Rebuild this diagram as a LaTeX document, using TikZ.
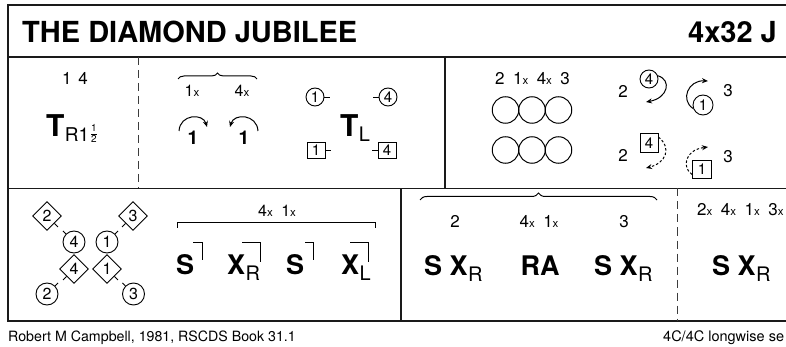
\documentclass[tikz,border=0pt]{standalone}
\usepackage{fontspec}
\setmainfont{TeX Gyre Heros}
\usetikzlibrary{shapes.geometric,arrows.meta,decorations.pathreplacing}
\definecolor{ink}{HTML}{1A1A1A}
\newcommand{\fs}[1]{\fontsize{#1}{#1}\selectfont}
\newcommand{\smx}{{\fs{11.5}x}}
\newcommand{\gap}{\hspace{8.5pt}}
\tikzset{
 frame/.style={line width=1.3pt, draw=ink},
 divdash/.style={line width=1pt, draw=ink!85, dash pattern=on 8pt off 5pt},
 txt/.style={inner sep=0pt, anchor=base, font=\fs{17}},
 lbl/.style={inner sep=0pt, anchor=base, font=\fs{16}},
 big/.style={inner sep=0pt, anchor=base, font=\fs{27}\bfseries},
 sub/.style={inner sep=0pt, anchor=base west, font=\fs{20}},
 dot/.style={circle, draw, line width=0.9pt, inner sep=0pt, minimum size=18pt, font=\fs{15}},
 sq/.style={rectangle, draw, line width=0.9pt, inner sep=0pt, minimum width=18pt, minimum height=16pt, font=\fs{15}},
 bigdot/.style={circle, draw, line width=0.9pt, inner sep=0pt, minimum size=22pt, font=\fs{16}},
 dia/.style={diamond, draw, line width=0.9pt, inner sep=0pt, minimum width=29pt, minimum height=29pt, font=\fs{16}},
 ring/.style={circle, draw, line width=1pt, inner sep=0pt, minimum size=26.5pt},
 tick/.style={line width=0.9pt},
 turn/.style={line width=1pt, -{Stealth[length=6pt,width=5pt]}},
 dturn/.style={turn, dash pattern=on 2.5pt off 2pt},
 bracketline/.style={line width=1pt},
 bracecurl/.style={line width=1pt, decorate, decoration={brace, amplitude=6pt}},
}
\begin{document}
\begin{tikzpicture}[x=1pt,y=-1pt]
\useasboundingbox (0,0) rectangle (786,347);
\clip (0,0) rectangle (786,347);

% frame
\draw[frame] (795,5) -- (8,5) -- (8,321) -- (795,321);
\draw[frame] (8,57) -- (795,57);
\draw[frame] (8,188.5) -- (795,188.5);
\draw[divdash] (138,57) -- (138,188.5);
\draw[frame, line width=1.1pt] (445,57) -- (445,188.5);
\draw[frame, line width=1.1pt] (401,188.5) -- (401,321);
\draw[divdash] (677,188.5) -- (677,321);

% title
\node[inner sep=0pt, anchor=base west, font=\fs{29}\bfseries] (title) at (22,43) {THE DIAMOND JUBILEE};
\node[inner sep=0pt, anchor=base east, font=\fs{29}\bfseries] (code) at (777,43) {4x32 J};

% ---- row 1, cell 1
\node[txt] (r1c1) at (75,85) {1\hspace{7pt}4};
\node[inner sep=0pt, anchor=base west, font=\fs{30}\bfseries] (T1) at (46,137) {T};
\node[sub, font=\fs{19}] (T1s) at (T1.base east) {\raisebox{-5pt}{R1}};
\node[inner sep=0pt, font=\fs{10}] (frac) at (94,134.5)
  {\renewcommand{\arraystretch}{0.7}\begin{tabular}{@{}c@{}}1\\\hline\noalign{\vskip1.3pt}2\end{tabular}};

% ---- row 1, cell 2
\draw[bracecurl] (178,79) -- (257,79);
\node[lbl] (c2a) at (192,97) {1\smx};
\node[lbl] (c2b) at (242,97) {4\smx};
\node[inner sep=0pt, anchor=base, font=\fs{19}\bfseries] (one1) at (193,145) {1};
\node[inner sep=0pt, anchor=base, font=\fs{19}\bfseries] (one2) at (244,145) {1};
\coordinate (a1s) at (179,131);
\coordinate (a1e) at (207,127);
\draw[turn] (a1s) .. controls (180,114) and (203,113) .. (a1e);
\coordinate (a2s) at (258,131);
\coordinate (a2e) at (230,127);
\draw[turn] (a2s) .. controls (257,114) and (234,113) .. (a2e);

\node[dot] (p1) at (315,97) {1};
\node[dot] (p4) at (388,97) {4};
\node[sq] (q1) at (316,150) {1};
\node[sq] (q4) at (387,150) {4};
\draw[tick] (p1.east) -- ++(6,0);
\draw[tick] (p4.west) -- ++(-6,0);
\draw[tick] (q1.east) -- ++(6,0);
\draw[tick] (q4.west) -- ++(-6,0);
\node[inner sep=0pt, anchor=base west, font=\fs{30}\bfseries] (T2) at (340,137) {T};
\node[sub] (T2s) at (T2.base east) {\raisebox{-5pt}{L}};

% ---- row 1, cell 3
\node[txt] (set) at (532.5,85) {2\gap1\smx\gap4\smx\gap3};
\node[ring] (ra1) at (505.5,110) {};
\node[ring] (ra2) at (532,110) {};
\node[ring] (ra3) at (558.5,110) {};
\node[ring] (rb1) at (505.5,150) {};
\node[ring] (rb2) at (532,150) {};
\node[ring] (rb3) at (558.5,150) {};

\node[txt] (n2a) at (623,98) {2};
\node[txt] (n3a) at (728,97) {3};
\node[dot, minimum size=18pt] (m4) at (649,79) {4};
\node[dot, minimum size=20pt] (m1) at (703,105) {1};
\coordinate (m4e) at (646,102);
\coordinate (m1e) at (708,81);
\draw[turn] (m4.20) .. controls (672,80) and (668,98) .. (m4e);
\draw[turn] (m1.200) .. controls (680,100) and (688,80) .. (m1e);

\node[txt] (n2b) at (623,162) {2};
\node[txt] (n3b) at (728,163) {3};
\node[sq, minimum width=18pt, minimum height=19pt] (s4) at (649,143) {4};
\node[sq, minimum width=19pt, minimum height=18pt] (s1) at (702,169) {1};
\coordinate (s4e) at (646,168);
\coordinate (s1e) at (708,147);
\draw[dturn] (s4.north east) ++(0,4) .. controls (672,148) and (666,163) .. (s4e);
\draw[dturn] (s1.south west) ++(0,-4) .. controls (682,168) and (684,150) .. (s1e);

% ---- row 2, cell 1
\node[dia] (d2) at (47,216) {2};
\node[dia] (d3) at (133,216) {3};
\node[bigdot] (b4) at (74,242) {4};
\node[bigdot] (b1) at (107,242) {1};
\node[dia] (d4) at (74,269) {4};
\node[dia] (d1) at (107,269) {1};
\node[bigdot] (b2) at (47,294) {2};
\node[bigdot] (b3) at (133.5,294) {3};
\draw[tick] (d2.south east) -- ++(3.5,3.5);
\draw[tick] (d3.south west) -- ++(-3.5,3.5);
\draw[tick] (b4.north west) -- ++(-3,-3);
\draw[tick] (b1.north east) -- ++(3,-3);
\draw[tick] (d4.south west) -- ++(-3.5,3.5);
\draw[tick] (d1.south east) -- ++(3.5,3.5);
\draw[tick] (b2.north east) -- ++(3,-3);
\draw[tick] (b3.north west) -- ++(-3,-3);

% ---- row 2, cell 2
\node[lbl] (r2lab) at (277,217) {4\smx\gap1\smx};
\coordinate (brL) at (177,228);
\coordinate (brR) at (375,228);
\draw[bracketline] (brL) -- ++(0,-5.5) -| (brR);
\node[big, anchor=base west] (S1) at (176,274) {S};
\node[big, anchor=base west] (X1) at (227,274) {X};
\node[sub] (X1s) at (X1.base east) {\raisebox{-6pt}{R}};
\node[big, anchor=base west] (S2) at (286,274) {S};
\node[big, anchor=base west] (X2) at (341,274) {X};
\node[sub] (X2s) at (X2.base east) {\raisebox{-6pt}{L}};
\draw[bracketline] (193,242) -- (202,242) -- (202,260);
\draw[bracketline] (242,242) -- (260,242) -- (260,262);
\draw[bracketline] (305,242) -- (313,242) -- (313,260);
\draw[bracketline] (350,242) -- (368,242) -- (368,262);

% ---- row 2, cell 3
\draw[bracecurl, decoration={amplitude=7pt}] (420,200) -- (657,200);
\node[txt] (g2) at (455,228) {2};
\node[txt] (g41) at (539,228) {4\smx\gap1\smx};
\node[txt] (g3) at (624,228) {3};
\node[big, anchor=base west] (sx1) at (424,275) {S X};
\node[sub] (sx1s) at (sx1.base east) {\raisebox{-6pt}{R}};
\node[big] (ra) at (540,275) {RA};
\node[big, anchor=base west] (sx2) at (594,275) {S X};
\node[sub] (sx2s) at (sx2.base east) {\raisebox{-6pt}{R}};

\node[txt, anchor=base west] (all) at (697,215) {2\smx\gap4\smx\gap1\smx\gap3\smx};
\node[big, anchor=base west] (sx3) at (712,275) {S X};
\node[sub] (sx3s) at (sx3.base east) {\raisebox{-6pt}{R}};

% footer
\node[inner sep=0pt, anchor=base west, font=\fs{14.2}] (foot) at (8,341) {Robert M Campbell, 1981, RSCDS Book 31.1};
\node[inner sep=0pt, anchor=base west, font=\fs{14.5}] (form) at (663,341) {4C/4C longwise se};
\end{tikzpicture}
\end{document}
